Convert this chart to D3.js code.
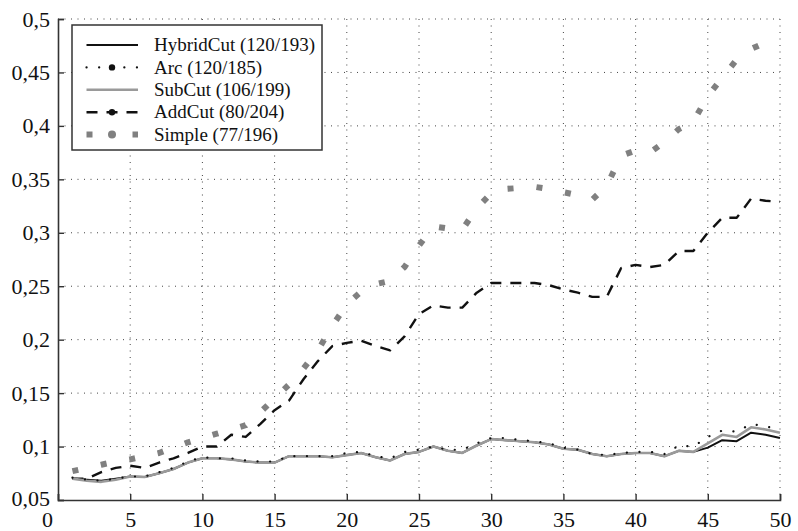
<!DOCTYPE html>
<html>
<head>
<meta charset="utf-8">
<script src="https://cdn.jsdelivr.net/npm/d3@7"></script>
<style>
  body { margin: 0; background: #fff; }
  svg { display: block; }
</style>
</head>
<body>
<div id="chart"></div>
<script>
// iteration steps on the x axis
const steps = [1, 2, 3, 4, 5, 6, 7, 8, 9, 10, 11, 12, 13, 14, 15, 16, 17, 18, 19, 20,
  21, 22, 23, 24, 25, 26, 27, 28, 29, 30, 31, 32, 33, 34, 35, 36, 37, 38, 39, 40,
  41, 42, 43, 44, 45, 46, 47, 48, 49, 50];

const hybridCut = [0.070, 0.069, 0.068, 0.070, 0.072, 0.0715, 0.075, 0.079, 0.085, 0.089,
  0.089, 0.088, 0.086, 0.085, 0.085, 0.091, 0.091, 0.091, 0.090, 0.092,
  0.094, 0.090, 0.087, 0.093, 0.095, 0.100, 0.096, 0.094, 0.101, 0.107,
  0.106, 0.105, 0.104, 0.102, 0.098, 0.097, 0.093, 0.091, 0.093, 0.094,
  0.094, 0.091, 0.096, 0.095, 0.099, 0.106, 0.105, 0.113, 0.111, 0.108];

const arc = [0.071, 0.069, 0.068, 0.070, 0.072, 0.072, 0.076, 0.080, 0.086, 0.090,
  0.089, 0.089, 0.087, 0.086, 0.086, 0.091, 0.091, 0.091, 0.091, 0.094,
  0.095, 0.091, 0.089, 0.095, 0.097, 0.100, 0.097, 0.097, 0.103, 0.108,
  0.108, 0.106, 0.105, 0.103, 0.099, 0.097, 0.093, 0.092, 0.094, 0.095,
  0.095, 0.093, 0.101, 0.100, 0.109, 0.115, 0.114, 0.121, 0.119, 0.1155];

const subCut = [0.070, 0.068, 0.067, 0.069, 0.072, 0.0715, 0.075, 0.079, 0.085, 0.089,
  0.089, 0.088, 0.086, 0.085, 0.085, 0.091, 0.091, 0.091, 0.090, 0.092,
  0.094, 0.090, 0.087, 0.093, 0.095, 0.100, 0.096, 0.094, 0.101, 0.107,
  0.106, 0.105, 0.104, 0.102, 0.098, 0.097, 0.093, 0.091, 0.093, 0.094,
  0.094, 0.091, 0.096, 0.095, 0.103, 0.111, 0.109, 0.118, 0.116, 0.113];

const addCut = [0.070, 0.070, 0.076, 0.080, 0.082, 0.080, 0.085, 0.089, 0.094, 0.100,
  0.100, 0.111, 0.109, 0.121, 0.134, 0.143, 0.163, 0.180, 0.194, 0.197,
  0.199, 0.194, 0.190, 0.203, 0.224, 0.232, 0.230, 0.230, 0.244, 0.253,
  0.253, 0.253, 0.253, 0.251, 0.247, 0.244, 0.240, 0.240, 0.267, 0.270,
  0.268, 0.270, 0.283, 0.283, 0.300, 0.314, 0.314, 0.332, 0.330, 0.329];

const simple = [0.077, 0.080, 0.083, 0.086, 0.088, 0.091, 0.094, 0.099, 0.104, 0.108,
  0.112, 0.116, 0.120, 0.132, 0.145, 0.158, 0.173, 0.190, 0.213, 0.233,
  0.245, 0.252, 0.255, 0.268, 0.288, 0.306, 0.304, 0.303, 0.323, 0.337,
  0.341, 0.342, 0.343, 0.341, 0.338, 0.335, 0.331, 0.344, 0.372, 0.377,
  0.375, 0.385, 0.397, 0.404, 0.428, 0.445, 0.462, 0.472, 0.478, 0.481];

const seriesLabels = ["HybridCut (120/193)", "Arc (120/185)", "SubCut (106/199)",
  "AddCut (80/204)", "Simple (77/196)"];

const xTicks = [0, 5, 10, 15, 20, 25, 30, 35, 40, 45, 50];
const yTicks = [0.05, 0.1, 0.15, 0.2, 0.25, 0.3, 0.35, 0.4, 0.45, 0.5];
const yTickLabels = ["0,05", "0,1", "0,15", "0,2", "0,25", "0,3", "0,35", "0,4", "0,45", "0,5"];

const SERIF = "Liberation Serif, DejaVu Serif, serif";

class CutChart {
  /**
   * basic chart configuration
   */
  constructor(_config) {
    this.config = {
      parentElement: _config.parentElement,
      containerWidth: _config.containerWidth || 798,
      containerHeight: _config.containerHeight || 531,
      margin: _config.margin || { top: 19, right: 18, bottom: 31, left: 58 },
    };
    // styles per series, same order as seriesLabels
    this.series = [
      { label: seriesLabels[0], values: hybridCut, stroke: "#111", width: 2, dash: null, marker: null },
      { label: seriesLabels[1], values: arc, stroke: "#111", width: 2.2, dash: "0.1,12.5", cap: "round", marker: "#111" },
      { label: seriesLabels[2], values: subCut, stroke: "#9a9a9a", width: 2.6, dash: null, marker: null },
      { label: seriesLabels[3], values: addCut, stroke: "#111", width: 2.4, dash: "11,9", marker: "#111" },
      { label: seriesLabels[4], values: simple, stroke: "#808080", width: 6, dash: "6,23", marker: "#808080" },
    ];
    // draw order: Simple, AddCut, HybridCut, SubCut, Arc
    this.drawOrder = [4, 3, 0, 2, 1];
    this.initVis();
  }

  initVis() {
    let vis = this;

    vis.width = vis.config.containerWidth - vis.config.margin.left - vis.config.margin.right;
    vis.height = vis.config.containerHeight - vis.config.margin.top - vis.config.margin.bottom;

    vis.svgRoot = d3.select(vis.config.parentElement)
      .append("svg")
      .attr("width", vis.config.containerWidth)
      .attr("height", vis.config.containerHeight);

    vis.svg = vis.svgRoot.append("g")
      .attr("transform", `translate(${vis.config.margin.left},${vis.config.margin.top})`);

    vis.xScale = d3.scaleLinear().domain([0, 50]).range([0, vis.width]);
    vis.yScale = d3.scaleLinear().domain([0.05, 0.5]).range([vis.height, 0]);

    // dotted grid
    vis.svg.append("g")
      .attr("class", "grid")
      .selectAll("line.gx")
      .data(xTicks.filter((d) => d > 0))
      .join("line")
      .attr("x1", (d) => vis.xScale(d))
      .attr("x2", (d) => vis.xScale(d))
      .attr("y1", 0)
      .attr("y2", vis.height)
      .attr("stroke", "#444")
      .attr("stroke-width", 1)
      .attr("stroke-dasharray", "1,5.5");

    vis.svg.append("g")
      .attr("class", "grid")
      .selectAll("line.gy")
      .data(yTicks.filter((d) => d > 0.05))
      .join("line")
      .attr("x1", 0)
      .attr("x2", vis.width)
      .attr("y1", (d) => vis.yScale(d))
      .attr("y2", (d) => vis.yScale(d))
      .attr("stroke", "#444")
      .attr("stroke-width", 1)
      .attr("stroke-dasharray", "1,5.5");

    // axes with inward ticks
    const xAxis = d3.axisBottom(vis.xScale)
      .tickValues(xTicks)
      .tickSize(-6)
      .tickPadding(11)
      .tickFormat(d3.format("d"));
    const yAxis = d3.axisLeft(vis.yScale)
      .tickValues(yTicks)
      .tickSize(-6)
      .tickPadding(8)
      .tickFormat((d, i) => yTickLabels[i]);

    vis.xAxisG = vis.svg.append("g")
      .attr("transform", `translate(0,${vis.height})`)
      .call(xAxis);
    vis.yAxisG = vis.svg.append("g").call(yAxis);

    [vis.xAxisG, vis.yAxisG].forEach((g) => {
      g.attr("font-family", null).attr("font-size", null);
      g.select(".domain").attr("stroke", "#333").attr("stroke-width", 1.6);
      g.selectAll(".tick line").attr("stroke", "#333").attr("stroke-width", 1.4);
      g.selectAll(".tick text")
        .attr("fill", "#111")
        .style("font-family", SERIF)
        .style("font-size", "22px");
    });
    // the 0 label sits a little left of the corner, 0,05 a touch higher
    vis.xAxisG.selectAll(".tick text").filter((d) => d === 0).attr("dx", -11);
    vis.yAxisG.selectAll(".tick text").filter((d) => d === 0.05).attr("y", -2);

    vis.renderVis();
  }

  renderVis() {
    let vis = this;

    const line = d3.line()
      .x((d, i) => vis.xScale(steps[i]))
      .y((d) => vis.yScale(d));

    vis.svg.append("g")
      .attr("class", "series")
      .selectAll("path")
      .data(vis.drawOrder.map((i) => vis.series[i]))
      .join("path")
      .attr("d", (s) => line(s.values))
      .attr("fill", "none")
      .attr("stroke", (s) => s.stroke)
      .attr("stroke-width", (s) => s.width)
      .attr("stroke-linecap", (s) => s.cap || "butt")
      .attr("stroke-linejoin", "round")
      .attr("stroke-dasharray", (s) => s.dash);

    vis.renderLegend();
  }

  renderLegend() {
    let vis = this;
    const left = 72, top = 25, boxW = 250, boxH = 125, rowH = 22.4;
    const lineX1 = 86, lineX2 = 138, textX = 154;

    const legend = vis.svgRoot.append("g").attr("class", "legend");
    legend.append("rect")
      .attr("x", left)
      .attr("y", top)
      .attr("width", boxW)
      .attr("height", boxH)
      .attr("fill", "#fff")
      .attr("stroke", "#333")
      .attr("stroke-width", 1.5);

    // legend dash patterns differ a bit from the plot
    const legendDash = [null, "0.1,12.5", null, "11,9", "6,40"];

    const rows = legend.selectAll("g.row")
      .data(vis.series)
      .join("g")
      .attr("class", "row")
      .attr("transform", (d, i) => `translate(0,${top + 20 + i * rowH})`);

    rows.append("line")
      .attr("x1", lineX1 + 0.5)
      .attr("x2", lineX2)
      .attr("y1", 0)
      .attr("y2", 0)
      .attr("stroke", (s) => s.stroke)
      .attr("stroke-width", (s) => s.width)
      .attr("stroke-linecap", (s) => s.cap || "butt")
      .attr("stroke-dasharray", (s, i) => legendDash[i]);

    rows.filter((s) => s.marker)
      .append("circle")
      .attr("cx", (lineX1 + lineX2) / 2)
      .attr("cy", 0)
      .attr("r", (s) => (s.width > 4 ? 4 : 3.2))
      .attr("fill", (s) => s.marker);

    rows.append("text")
      .attr("x", textX)
      .attr("y", 0)
      .attr("dy", "0.33em")
      .attr("fill", "#111")
      .style("font-family", SERIF)
      .style("font-size", "19px")
      .text((s) => s.label);
  }
}

new CutChart({ parentElement: "#chart" });
</script>
</body>
</html>
